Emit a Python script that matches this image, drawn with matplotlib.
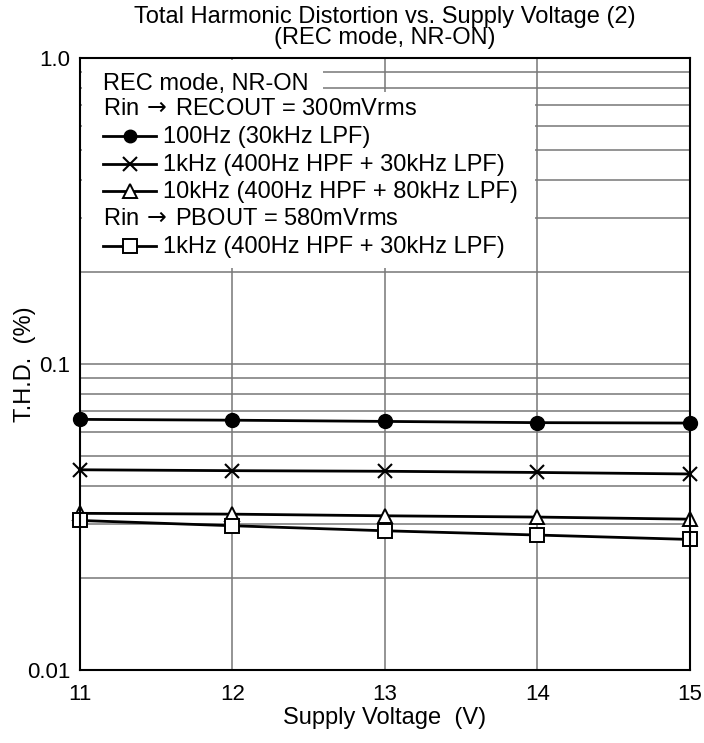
import matplotlib
matplotlib.use("Agg")
import matplotlib.pyplot as plt
from matplotlib.patches import Rectangle
from matplotlib.lines import Line2D
from matplotlib.ticker import FixedLocator, NullFormatter

plt.rcParams['font.family'] = ['Liberation Sans', 'DejaVu Sans']

# data
voltage = [11, 12, 13, 14, 15]
thd_100hz = [0.0659, 0.0655, 0.0649, 0.0643, 0.0641]
thd_1khz = [0.0451, 0.0448, 0.0446, 0.0442, 0.0437]
thd_10khz = [0.0325, 0.0323, 0.0319, 0.0316, 0.0311]
thd_pb_1khz = [0.0308, 0.0296, 0.0285, 0.0276, 0.0267]

x_ticks = [11, 12, 13, 14, 15]
y_ticks = [0.01, 0.1, 1.0]
y_tick_labels = ["0.01", "0.1", "1.0"]

FS = 17
TICK_FS = 16

fig = plt.figure(figsize=(7.04, 7.43), dpi=100)
ax = fig.add_axes([0.1136, 0.0983, 0.8665, 0.8237])

ax.set_yscale('log')
ax.set_xlim(11, 15)
ax.set_ylim(0.01, 1.0)

# grid
ax.set_xticks(x_ticks)
ax.set_yticks(y_ticks)
ax.set_yticklabels(y_tick_labels)
ax.yaxis.set_minor_locator(FixedLocator([m * d for d in (0.01, 0.1) for m in range(2, 10)]))
ax.yaxis.set_minor_formatter(NullFormatter())
ax.grid(True, which='both', color='#777777', lw=1.1)
ax.tick_params(which='both', length=0, labelsize=TICK_FS)
ax.tick_params(axis='x', pad=10)
ax.tick_params(axis='y', pad=7)
for s in ax.spines.values():
    s.set_linewidth(1.5)
    s.set_zorder(5)

ax.plot(voltage, thd_100hz, '-o', color='black', lw=2, ms=10, zorder=3, clip_on=False)
ax.plot(voltage, thd_1khz, '-x', color='black', lw=2, ms=10.5, mew=1.5, zorder=3, clip_on=False)
ax.plot(voltage, thd_10khz, '-^', color='black', lw=2, ms=10, mfc='white', mew=1.4, zorder=3, clip_on=False)
ax.plot(voltage, thd_pb_1khz, '-s', color='black', lw=2, ms=9.5, mfc='white', mew=1.4, zorder=3, clip_on=False)

# legend block (white boxes covering the grid)
def fy(py):
    return (670 - py) / 612

ax.add_patch(Rectangle((0.003, fy(93)), 0.395, 0.996 - fy(93), transform=ax.transAxes,
                       facecolor='white', edgecolor='none', zorder=4))
ax.add_patch(Rectangle((0.003, fy(268)), 0.743, fy(93) - fy(268) + 0.001, transform=ax.transAxes,
                       facecolor='white', edgecolor='none', zorder=4))

baselines = [fy(y) for y in (90, 115, 143, 171, 198, 225, 253)]
tx = 0.038
for i, txt in [(0, "REC mode, NR-ON"),
               (1, r"Rin$\,\rightarrow\,$RECOUT = 300mVrms"),
               (5, r"Rin$\,\rightarrow\,$PBOUT = 580mVrms")]:
    ax.text(tx, baselines[i], txt, transform=ax.transAxes, fontsize=FS, va='baseline', zorder=6)

entries = [
    (2, dict(marker='o', ms=9, mfc='black'), "100Hz (30kHz LPF)"),
    (3, dict(marker='x', ms=10, mew=1.5), "1kHz (400Hz HPF + 30kHz LPF)"),
    (4, dict(marker='^', ms=10, mfc='white', mew=1.4), "10kHz (400Hz HPF + 80kHz LPF)"),
    (6, dict(marker='s', ms=9.5, mfc='white', mew=1.4), "1kHz (400Hz HPF + 30kHz LPF)"),
]
for i, mk, label in entries:
    yb = baselines[i]
    ym = yb + 7 / 612
    ax.add_line(Line2D([tx, 0.125], [ym, ym], color='black', lw=2,
                       transform=ax.transAxes, zorder=6))
    ax.add_line(Line2D([0.082], [ym], color='black', ls='none',
                       transform=ax.transAxes, zorder=7, **mk))
    ax.text(0.136, yb, label, transform=ax.transAxes, fontsize=FS, va='baseline', zorder=6)

ax.set_title("Total Harmonic Distortion vs. Supply Voltage (2)\n(REC mode, NR-ON)",
             fontsize=FS, linespacing=0.92, pad=10)
ax.set_xlabel("Supply Voltage  (V)", fontsize=FS)
ax.set_ylabel("T.H.D.  (%)", fontsize=FS)
ax.xaxis.set_label_coords(0.5, -0.06)
ax.yaxis.set_label_coords(-0.072, 0.5)

fig.savefig("out.png", dpi=100)
